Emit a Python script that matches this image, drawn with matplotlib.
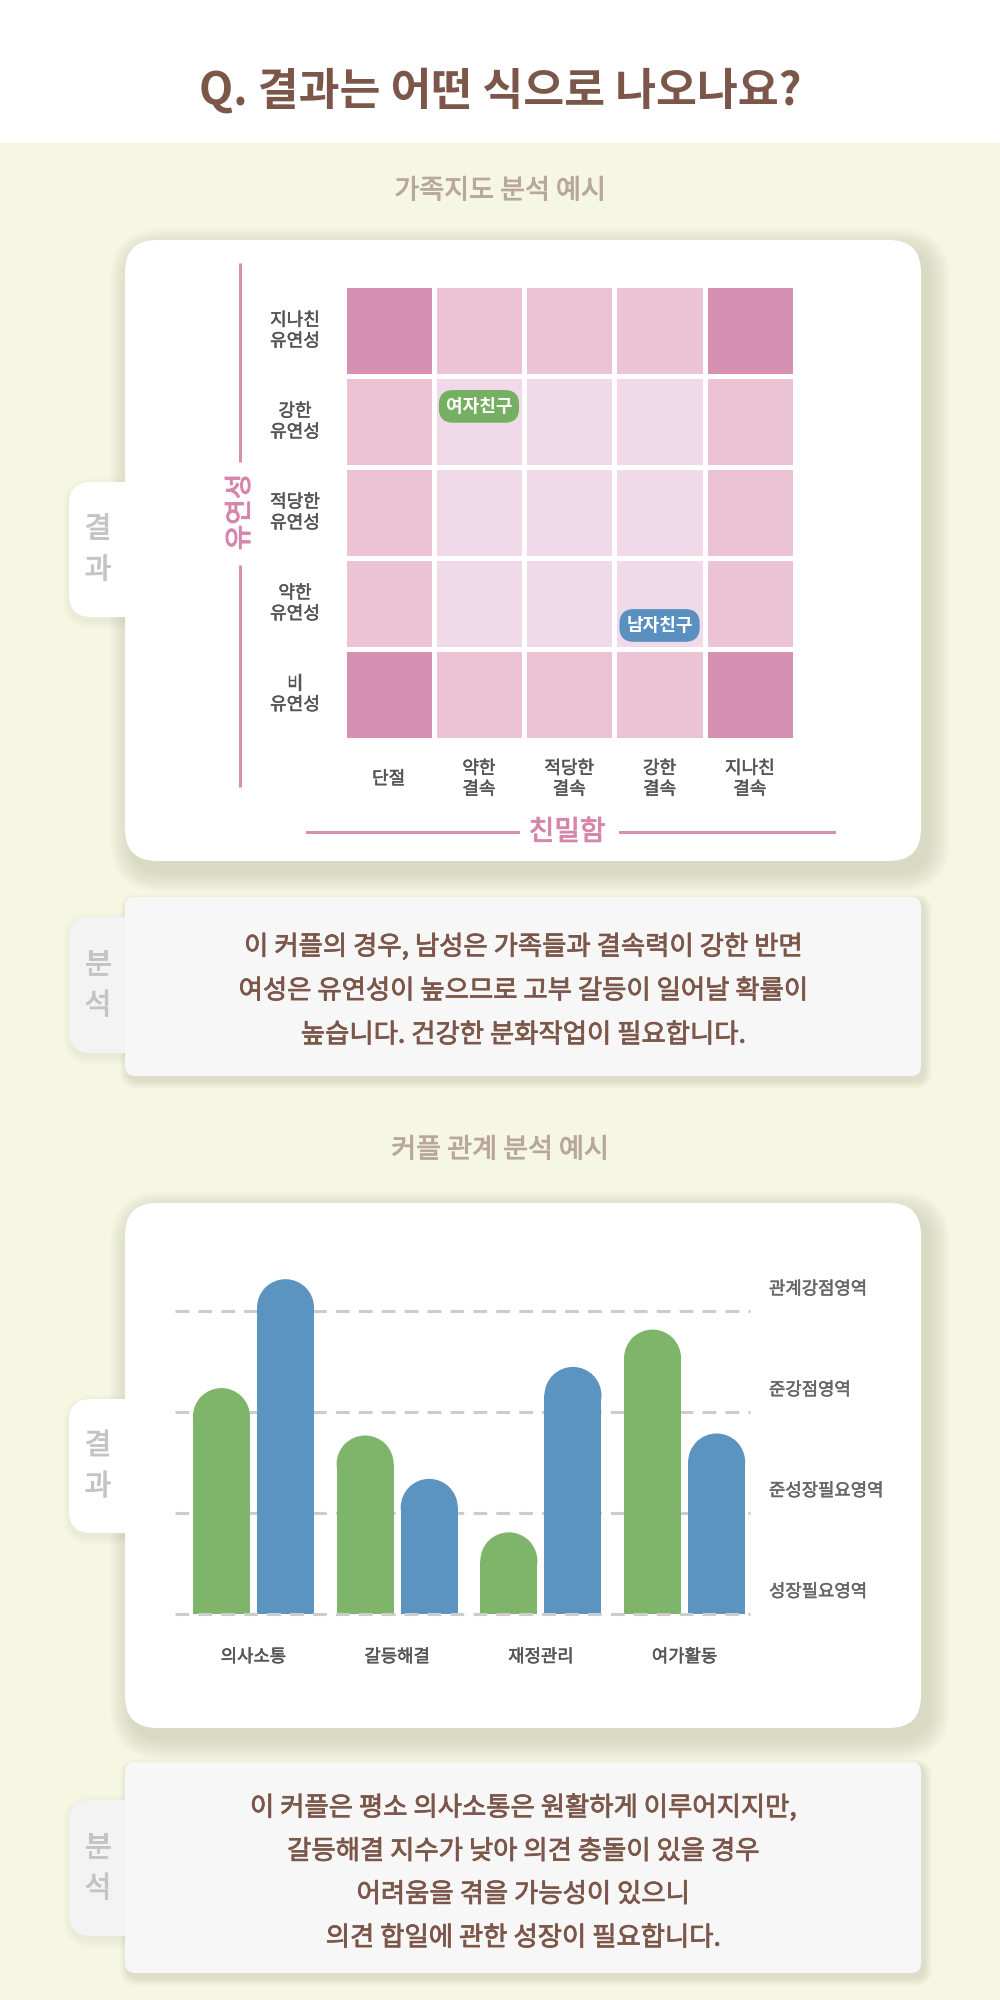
import matplotlib
matplotlib.use('Agg')
import matplotlib.pyplot as plt
import matplotlib.patheffects as pe
from matplotlib.patches import FancyBboxPatch, Ellipse
from matplotlib.colors import ListedColormap
import numpy as np

plt.rcParams['font.family'] = ['Noto Sans CJK KR', 'DejaVu Sans']

# ---------------- data ----------------
title = "Q. 결과는 어떤 식으로 나오나요?"
map_title = "가족지도 분석 예시"
bar_title = "커플 관계 분석 예시"
flex_axis = "유연성"
cohesion_axis = "친밀함"
flex_labels = ["지나친\n유연성", "강한\n유연성", "적당한\n유연성", "약한\n유연성", "비\n유연성"]
cohesion_labels = ["단절", "약한\n결속", "적당한\n결속", "강한\n결속", "지나친\n결속"]
map_levels = [
    [2, 1, 1, 1, 2],
    [1, 0, 0, 0, 1],
    [1, 0, 0, 0, 1],
    [1, 0, 0, 0, 1],
    [2, 1, 1, 1, 2],
]
members = ["여자친구", "남자친구"]
member_col = [1.0, 3.0]
member_row = [0.83, 3.24]
analysis1 = ["이 커플의 경우, 남성은 가족들과 결속력이 강한 반면",
             "여성은 유연성이 높으므로 고부 갈등이 일어날 확률이",
             "높습니다. 건강한 분화작업이 필요합니다."]
categories = ["의사소통", "갈등해결", "재정관리", "여가활동"]
female = [2.24, 1.77, 0.81, 2.82]
male = [3.32, 1.34, 2.45, 1.79]
zones = ["성장필요영역", "준성장필요영역", "준강점영역", "관계강점영역"]
zone_levels = [0, 1, 2, 3]
analysis2 = ["이 커플은 평소 의사소통은 원활하게 이루어지지만,",
             "갈등해결 지수가 낮아 의견 충돌이 있을 경우",
             "어려움을 겪을 가능성이 있으니",
             "의견 합일에 관한 성장이 필요합니다."]
tab_result = ["결", "과"]
tab_analysis = ["분", "석"]

# ---------------- style ----------------
CREAM = '#f6f7e3'
BROWN = '#7b5649'
SUB = '#b9a797'
PINK_LINE = '#d690b1'
PINK_TXT = '#d685ab'
CELL_COLORS = ['#f0dae9', '#ecc2d5', '#d690b1']
GREEN = '#7fb56b'
BLUE = '#5b94c0'
BADGE_COLORS = ['#74af62', '#5a90c0']
TAB_TXT = '#c4c4c4'


def heavy(color, w=0.6):
    return [pe.withStroke(linewidth=w, foreground=color)]


W, H = 1000, 2000
fig = plt.figure(figsize=(10, 20), dpi=100)
fig.patch.set_facecolor(CREAM)

bg = fig.add_axes([0, 0, 1, 1], zorder=0)
bg.set_xlim(0, W)
bg.set_ylim(H, 0)
bg.axis('off')


def frac(x0, y0, x1, y1):
    return [x0 / W, 1 - y1 / H, (x1 - x0) / W, (y1 - y0) / H]


def rbox(x0, y0, x1, y1, r, fc, z=1, alpha=1.0, pad=0.0):
    bg.add_patch(FancyBboxPatch((x0, y0), x1 - x0, y1 - y0,
                                boxstyle=f"round,pad={pad},rounding_size={r + pad}",
                                fc=fc, ec='none', zorder=z, alpha=alpha))


def shadow(x0, y0, x1, y1, r, dx=7, dy=10, spread=22, layers=12, alpha=0.018, z=0.5):
    for i in range(layers):
        p = spread * (layers - i) / layers
        rbox(x0 + dx, y0 + dy, x1 + dx, y1 + dy, r, '#80826a', z=z, alpha=alpha, pad=p)


# header
bg.add_patch(plt.Rectangle((0, 0), W, 143, fc='white', ec='none', zorder=0.2))
bg.text(500, 92, title, ha='center', va='center', fontsize=32, fontweight='bold', color=BROWN)

# section titles
bg.text(500, 191, map_title, ha='center', va='center', fontsize=19.5, color=SUB,
        path_effects=heavy(SUB, 0.6))
bg.text(500, 1150, bar_title, ha='center', va='center', fontsize=19.5, color=SUB,
        path_effects=heavy(SUB, 0.6))

# tabs (behind cards)
for (y0, y1, fc, labels) in [(482, 617, 'white', tab_result),
                             (917, 1053, '#f3f3f3', tab_analysis),
                             (1399, 1533, 'white', tab_result),
                             (1800, 1936, '#f3f3f3', tab_analysis)]:
    shadow(69, y0, 140, y1, 22, dx=2, dy=4, spread=8, layers=6, alpha=0.015, z=0.6)
    rbox(69, y0, 150, y1, 22, fc, z=0.8)
    cy = (y0 + y1) / 2
    bg.text(98, cy - 20, labels[0], ha='center', va='center', fontsize=21,
            color=TAB_TXT, zorder=0.9, path_effects=heavy(TAB_TXT, 0.6))
    bg.text(98, cy + 21, labels[1], ha='center', va='center', fontsize=21,
            color=TAB_TXT, zorder=0.9, path_effects=heavy(TAB_TXT, 0.6))

# cards
for (y0, y1) in [(240, 861), (1203, 1728)]:
    shadow(125, y0, 921, y1, 32)
    rbox(125, y0, 921, y1, 32, 'white', z=1)

# analysis boxes
for (y0, y1, lines, ys) in [(897, 1076, analysis1, [947, 991, 1035]),
                            (1762, 1973, analysis2, [1808, 1851.5, 1894.5, 1938])]:
    shadow(125, y0, 921, y1, 10, dx=3, dy=5, spread=8, layers=8, alpha=0.025)
    rbox(125, y0, 921, y1, 10, '#f7f7f7', z=1)
    for ln, yy in zip(lines, ys):
        bg.text(523, yy, ln, ha='center', va='center', fontsize=19,
                color=BROWN, zorder=2, path_effects=heavy(BROWN, 0.55))

# ---------------- family map ----------------
bg.plot([240, 240], [263, 462], color=PINK_LINE, lw=2.2, solid_capstyle='butt', zorder=2)
bg.plot([240, 240], [565, 787], color=PINK_LINE, lw=2.2, solid_capstyle='butt', zorder=2)
bg.text(240, 512, flex_axis, rotation=90, ha='center', va='center', fontsize=20,
        color=PINK_TXT, zorder=2, path_effects=heavy(PINK_TXT, 0.7))
bg.plot([307, 518], [832, 832], color=PINK_LINE, lw=2.2, zorder=2)
bg.plot([620, 834], [832, 832], color=PINK_LINE, lw=2.2, zorder=2)
bg.text(567, 832, cohesion_axis, ha='center', va='center', fontsize=20,
        color=PINK_TXT, zorder=2, path_effects=heavy(PINK_TXT, 0.7))

hm = fig.add_axes(frac(343.5, 285.5, 795, 740), zorder=2)
hm.patch.set_alpha(0)
levels = np.array(map_levels)
edges = np.arange(levels.shape[1] + 1) - 0.5
hm.pcolormesh(edges, edges, levels, cmap=ListedColormap(CELL_COLORS), vmin=-0.5, vmax=2.5,
              edgecolors='white', linewidth=3.6)
hm.set_xlim(-0.5, 4.5)
hm.set_ylim(4.5, -0.5)
hm.axis('off')

for i, lab in enumerate(flex_labels):
    hm.text(-1.037, i, lab, ha='center', va='center', multialignment='center',
            fontsize=13, color='#555555', linespacing=1.2, clip_on=False,
            path_effects=heavy('#555555', 0.35))
for j, lab in enumerate(cohesion_labels):
    hm.text(j, 4.93, lab, ha='center', va='center', multialignment='center',
            fontsize=13, color='#555555', linespacing=1.2, clip_on=False,
            path_effects=heavy('#555555', 0.35))

for name, c, r, col in zip(members, member_col, member_row, BADGE_COLORS):
    hm.text(c, r, name, ha='center', va='center', fontsize=13, fontweight='bold', color='white',
            bbox=dict(boxstyle='round,pad=0.38,rounding_size=0.8', fc=col, ec='none'), zorder=5)

# ---------------- bar chart ----------------
bx = fig.add_axes(frac(175, 1260, 750, 1614), zorder=2)
bx.patch.set_alpha(0)
bx.set_xlim(-0.546, 3.455)
bx.set_ylim(0, 3.51)
bx.axis('off')

for k in zone_levels:
    bx.axhline(k, color='#cccccc', lw=2.2, ls=(0, (4.5, 3.0)),
               zorder=4 if k == 0 else 0, clip_on=False)
for k, zname in zip(zone_levels, zones):
    bx.text(1.033, k + 0.22, zname, transform=bx.get_yaxis_transform(), ha='left', va='center',
            fontsize=12.8, color='#666666', clip_on=False, path_effects=heavy('#666666', 0.35))

x = np.arange(len(categories))
bw = 0.397
off = 0.223
fig.canvas.draw()
bb = bx.get_window_extent()
px_x = bb.width / (bx.get_xlim()[1] - bx.get_xlim()[0])
px_y = bb.height / (bx.get_ylim()[1] - bx.get_ylim()[0])
ry = (bw / 2) * px_x / px_y

for vals, sgn, col in [(female, -1, GREEN), (male, 1, BLUE)]:
    xs = x + sgn * off
    v = np.array(vals)
    bx.bar(xs, v - ry, width=bw, color=col, zorder=2, linewidth=0)
    for xi, vi in zip(xs, v):
        bx.add_patch(Ellipse((xi, vi - ry), bw, 2 * ry, fc=col, ec='none', zorder=2))

for i, cat in enumerate(categories):
    bx.text(i, -0.426, cat, ha='center', va='center', fontsize=12.8,
            color='#555555', clip_on=False, path_effects=heavy('#555555', 0.35))

fig.savefig('out.png', dpi=100, facecolor=fig.get_facecolor())
